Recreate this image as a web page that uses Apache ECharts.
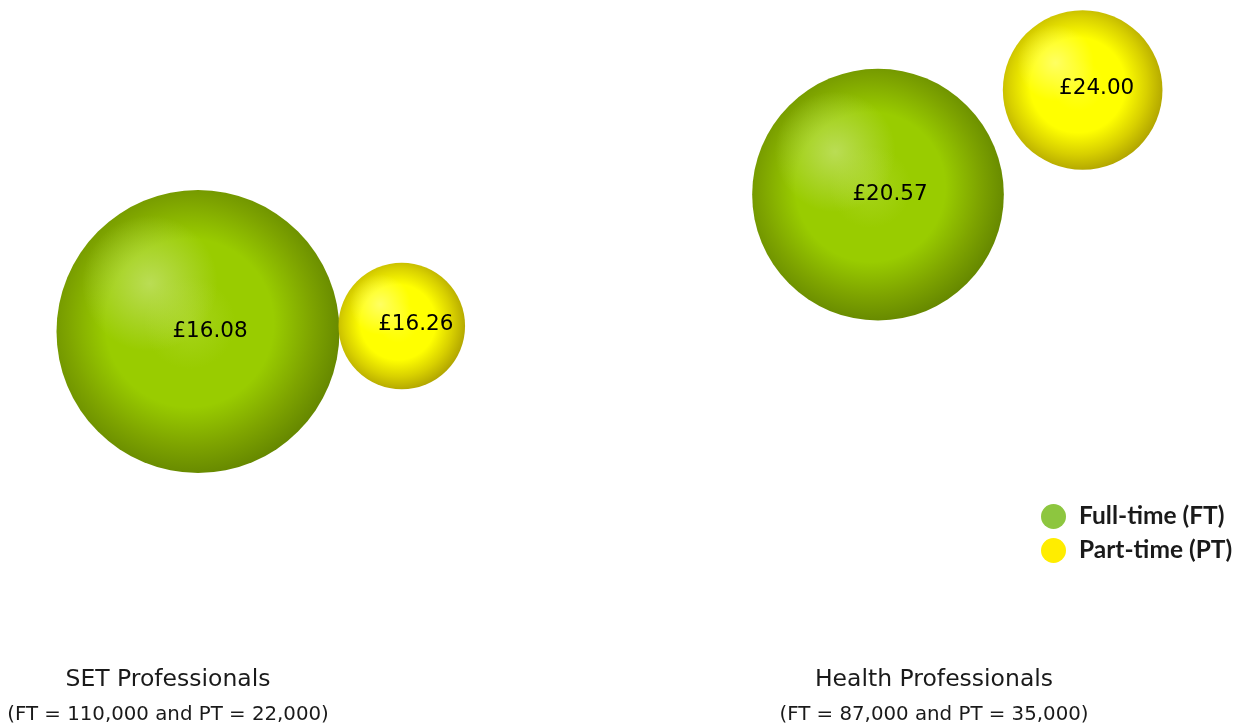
<!DOCTYPE html>
<html>
<head>
<meta charset="utf-8">
<script src="https://cdn.jsdelivr.net/npm/echarts@6/dist/echarts.min.js"></script>
<style>
  html, body { margin: 0; padding: 0; background: #ffffff; }
  #chart { width: 1246px; height: 724px; }
</style>
</head>
<body>
<div id="chart"></div>
<script>
// Professional groups and their workforce / hourly pay figures
const groups = ['SET Professionals', 'Health Professionals'];
const ftCount = [110000, 87000];
const ptCount = [22000, 35000];
const ftPay = [16.08, 20.57];
const ptPay = [16.26, 24.00];
const seriesNames = ['Full-time (FT)', 'Part-time (PT)'];

// Bubble area is proportional to headcount
const MAX_DIAM = 283;
const maxCount = Math.max(...ftCount, ...ptCount);
const diam = c => MAX_DIAM * Math.sqrt(c / maxCount);

const fmtCount = n => n.toLocaleString('en-GB');
const fmtPay = v => '£' + v.toFixed(2);

const ftData = groups.map((g, i) => ({ name: g, value: [i, ftPay[i], ftCount[i]] }));
// Part-time bubble sits against the right side of its full-time bubble
const ptData = groups.map((g, i) => ({
  name: g,
  value: [i, ptPay[i], ptCount[i]],
  symbolOffset: [(diam(ftCount[i]) + diam(ptCount[i])) / 2 - 1, 0]
}));

// Spherical shading: bright core slightly up-left, darkening towards every edge
function baseGradient(light, mid, shade, edge) {
  return {
    type: 'radial', x: 0.47, y: 0.47, r: 0.54,
    colorStops: [
      { offset: 0, color: light },
      { offset: 0.3, color: mid },
      { offset: 0.55, color: mid },
      { offset: 0.8, color: shade },
      { offset: 1, color: edge }
    ]
  };
}
function glossGradient(rgb) {
  return {
    type: 'radial', x: 0.33, y: 0.33, r: 0.24,
    colorStops: [
      { offset: 0, color: 'rgba(' + rgb + ',0.7)' },
      { offset: 1, color: 'rgba(' + rgb + ',0)' }
    ]
  };
}

const labelStyle = {
  show: true,
  formatter: p => fmtPay(p.value[1]),
  color: '#000',
  fontSize: 21.5,
  fontFamily: '"DejaVu Sans", sans-serif'
};

const option = {
  backgroundColor: '#ffffff',
  animation: false,
  grid: { left: 198, width: 680, top: 29, height: 427 },
  xAxis: { type: 'value', min: 0, max: 1, show: false },
  yAxis: { type: 'value', min: 12, max: 26, show: false },
  legend: {
    orient: 'vertical',
    left: 1036, top: 499,
    icon: 'circle',
    itemWidth: 25, itemHeight: 25, itemGap: 9,
    itemStyle: { opacity: 1 },
    textStyle: { fontSize: 24.5, fontWeight: 'bold', color: '#1a1a1a', fontFamily: 'Lato, sans-serif', padding: [0, 0, 0, 8] },
    data: [
      { name: seriesNames[0], itemStyle: { color: '#8dc63f', opacity: 1 } },
      { name: seriesNames[1], itemStyle: { color: '#ffed00', opacity: 1 } }
    ]
  },
  title: groups.map((g, i) => ({
    text: g,
    subtext: '(FT = ' + fmtCount(ftCount[i]) + ' and PT = ' + fmtCount(ptCount[i]) + ')',
    left: [163, 929][i],
    top: 663,
    textAlign: 'center',
    itemGap: 13,
    textStyle: { fontSize: 23.5, fontWeight: 'normal', color: '#1a1a1a', fontFamily: '"DejaVu Sans", sans-serif' },
    subtextStyle: { fontSize: 19.8, color: '#1a1a1a', fontFamily: '"DejaVu Sans", sans-serif' }
  })),
  series: [
    {
      name: seriesNames[0], type: 'scatter', z: 2, data: ftData,
      symbolSize: v => diam(v[2]),
      itemStyle: { color: baseGradient('#a6d41a', '#99cc00', '#7ea400', '#668800'), opacity: 1 },
      emphasis: { disabled: true }
    },
    {
      name: 'ftGloss', type: 'scatter', z: 3, silent: true, data: ftData,
      symbolSize: v => diam(v[2]),
      itemStyle: { color: glossGradient('200,228,120'), opacity: 1 },
      label: Object.assign({ offset: [12, 0] }, labelStyle),
      emphasis: { disabled: true }
    },
    {
      name: seriesNames[1], type: 'scatter', z: 2, data: ptData,
      symbolSize: v => diam(v[2]),
      itemStyle: { color: baseGradient('#ffff20', '#ffff00', '#d8d000', '#b2a600'), opacity: 1 },
      emphasis: { disabled: true }
    },
    {
      name: 'ptGloss', type: 'scatter', z: 3, silent: true, data: ptData,
      symbolSize: v => diam(v[2]),
      itemStyle: { color: glossGradient('255,255,140'), opacity: 1 },
      label: Object.assign({ offset: [14, -2] }, labelStyle),
      emphasis: { disabled: true }
    }
  ]
};

const chart = echarts.init(document.getElementById('chart'), null, { renderer: 'canvas' });
chart.setOption(option);
</script>
</body>
</html>
